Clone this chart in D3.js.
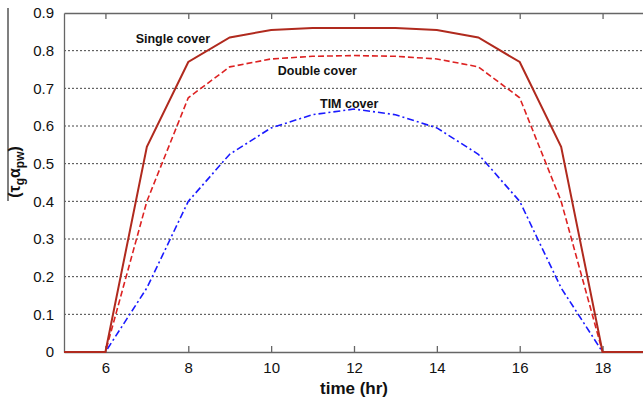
<!DOCTYPE html>
<html>
<head>
<meta charset="utf-8">
<script src="https://cdn.jsdelivr.net/npm/d3@7"></script>
<style>
  body { margin: 0; background: #fff; }
  text { font-family: "Liberation Sans", Arial, sans-serif; }
</style>
</head>
<body>
<div id="chart"></div>
<script>
// data
const hours = [5, 6, 7, 8, 9, 10, 11, 12, 13, 14, 15, 16, 17, 18, 19];
const singleCover = [0, 0, 0.545, 0.77, 0.835, 0.855, 0.86, 0.86, 0.86, 0.855, 0.835, 0.77, 0.545, 0, 0];
const doubleCover = [0, 0, 0.40, 0.675, 0.757, 0.778, 0.785, 0.787, 0.785, 0.778, 0.757, 0.675, 0.40, 0, 0];
const timCover = [0, 0, 0.17, 0.40, 0.525, 0.595, 0.63, 0.645, 0.63, 0.595, 0.525, 0.40, 0.17, 0, 0];
const xTicks = [6, 8, 10, 12, 14, 16, 18];
const yTicks = [0, 0.1, 0.2, 0.3, 0.4, 0.5, 0.6, 0.7, 0.8, 0.9];

const width = 643, height = 403;
const margin = { top: 13, right: -1, bottom: 51, left: 64 };

const svg = d3.select('#chart')
    .append('svg')
    .attr('width', width)
    .attr('height', height);

const xScale = d3.scaleLinear()
    .domain([5, 19])
    .range([margin.left, width - margin.right]);

const yScale = d3.scaleLinear()
    .domain([0, 0.9])
    .range([height - margin.bottom, margin.top]);

// grid lines
svg.append('g')
    .selectAll('line')
    .data(yTicks.filter(d => d > 0 && d < 0.9))
    .enter()
    .append('line')
    .attr('x1', xScale(5))
    .attr('x2', xScale(19))
    .attr('y1', d => yScale(d))
    .attr('y2', d => yScale(d))
    .attr('stroke', '#444')
    .attr('stroke-width', 1)
    .attr('stroke-dasharray', '2,2');

// axes
const xAxis = d3.axisBottom(xScale).tickValues(xTicks).tickSizeInner(-6).tickSizeOuter(0).tickPadding(10);
const yAxis = d3.axisLeft(yScale).tickValues(yTicks).tickSizeInner(0).tickSizeOuter(0).tickPadding(10)
    .tickFormat(d => d === 0 ? '0' : d3.format('.1f')(d));

const gx = svg.append('g')
    .attr('transform', `translate(0,${yScale(0)})`)
    .call(xAxis);
const gy = svg.append('g')
    .attr('transform', `translate(${xScale(5)},0)`)
    .call(yAxis);

// top axis ticks only
const gt = svg.append('g')
    .attr('transform', `translate(0,${yScale(0.9)})`)
    .call(d3.axisTop(xScale).tickValues(xTicks).tickSizeInner(-6).tickSizeOuter(0).tickFormat(''));

[gx, gy, gt].forEach(g => {
    g.selectAll('path, line').attr('stroke', '#666').attr('stroke-width', 1.3);
    g.selectAll('text').attr('font-size', 15).attr('fill', '#111')
        .style('font-family', '"Liberation Sans", Arial, sans-serif');
});

// lines
const lineGen = d3.line()
    .x((d, i) => xScale(hours[i]))
    .y(d => yScale(d));

const series = [
    { values: timCover, color: '#1a1aff', dash: '7,3,2,3', width: 1.6 },
    { values: doubleCover, color: '#dd2222', dash: '6,3', width: 1.6 },
    { values: singleCover, color: '#b02a1e', dash: null, width: 2 }
];

series.forEach(s => {
    svg.append('path')
        .attr('d', lineGen(s.values))
        .attr('fill', 'none')
        .attr('stroke', s.color)
        .attr('stroke-width', s.width)
        .attr('stroke-dasharray', s.dash);
});

// series labels
const labels = [
    { text: 'Single cover', x: 6.73, y: 0.82 },
    { text: 'Double cover', x: 10.16, y: 0.735 },
    { text: 'TIM cover', x: 11.18, y: 0.648 }
];
svg.append('g')
    .selectAll('text')
    .data(labels)
    .enter()
    .append('text')
    .attr('x', d => xScale(d.x))
    .attr('y', d => yScale(d.y))
    .attr('font-size', 12.5)
    .attr('font-weight', 'bold')
    .attr('fill', '#111')
    .text(d => d.text);

// x axis title
svg.append('text')
    .attr('x', (xScale(5) + xScale(19)) / 2)
    .attr('y', 394)
    .attr('text-anchor', 'middle')
    .attr('font-size', 17)
    .attr('font-weight', 'bold')
    .attr('fill', '#111')
    .text('time (hr)');

// y axis title (mean value bar + rotated label)
svg.append('line')
    .attr('x1', 8).attr('x2', 8)
    .attr('y1', 8).attr('y2', 201)
    .attr('stroke', '#555')
    .attr('stroke-width', 1.5);

const yt = svg.append('text')
    .attr('transform', 'translate(20,172) rotate(-90)')
    .attr('text-anchor', 'middle')
    .attr('font-size', 16)
    .attr('font-weight', 'bold')
    .attr('fill', '#111');
yt.append('tspan').text('(τ');
yt.append('tspan').attr('font-size', 12).attr('dy', 4).text('g');
yt.append('tspan').attr('dy', -4).text('α');
yt.append('tspan').attr('font-size', 12).attr('dy', 4).text('pw');
yt.append('tspan').attr('dy', -4).text(')');
</script>
</body>
</html>
